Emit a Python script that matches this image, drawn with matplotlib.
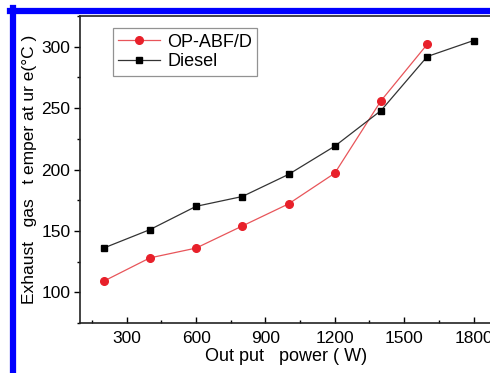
import matplotlib
matplotlib.use("Agg")
import matplotlib.pyplot as plt
from matplotlib.lines import Line2D
from matplotlib.ticker import MultipleLocator

plt.rcParams['font.family'] = ['Liberation Sans', 'DejaVu Sans']

power = [200, 400, 600, 800, 1000, 1200, 1400, 1600, 1800]
op_abf = [109, 128, 136, 154, 172, 197, 256, 302]
diesel = [136, 151, 170, 178, 196, 219, 248, 292, 305]

fig = plt.figure(figsize=(4.9, 3.73), dpi=100)
ax = fig.add_axes([80 / 490, 50 / 373, 412 / 490, 307 / 373])

ax.plot(power[:len(op_abf)], op_abf, color='#e8555a', lw=0.9, marker='o',
        ms=5.5, mfc='#e8202a', mec='#e8202a', label='OP-ABF/D')
ax.plot(power, diesel, color='#333333', lw=0.9, marker='s',
        ms=5, mfc='black', mec='black', label='Diesel')

ax.set_xlim(98, 1880)
ax.set_ylim(75, 325)
ax.xaxis.set_major_locator(MultipleLocator(300))
ax.xaxis.set_minor_locator(MultipleLocator(150))
ax.yaxis.set_major_locator(MultipleLocator(50))
ax.yaxis.set_minor_locator(MultipleLocator(25))
ax.tick_params(axis='x', which='both', direction='in', labelsize=12.5, pad=6)
ax.tick_params(axis='y', which='both', direction='out', labelsize=12.5, pad=3)
ax.tick_params(which='major', length=4, width=1)
ax.tick_params(which='minor', length=2.5, width=1)
for s in ax.spines.values():
    s.set_linewidth(1.2)
    s.set_color('#222222')

ax.set_xlabel('Out put   power ( W)', fontsize=13, labelpad=1)
ax.set_ylabel('Exhaust   gas   t emper at ur e(°C )', fontsize=12.5, labelpad=3)

leg = ax.legend(loc='upper left', bbox_to_anchor=(0.08, 0.96), fontsize=13,
                frameon=True, fancybox=False, edgecolor='#777777',
                handlelength=2.3, handletextpad=0.4, borderpad=0.3,
                labelspacing=0.15, borderaxespad=0)
leg.get_frame().set_linewidth(0.9)

# blue frame around the figure (left and top edges visible)
fig.add_artist(Line2D([13 / 490, 13 / 490], [0, 1 - 8 / 373], color='#0000ff',
                      lw=4.5, transform=fig.transFigure))
fig.add_artist(Line2D([10 / 490, 1], [1 - 11 / 373, 1 - 11 / 373], color='#0000ff',
                      lw=4.5, transform=fig.transFigure))

fig.savefig('out.png', dpi=100)
